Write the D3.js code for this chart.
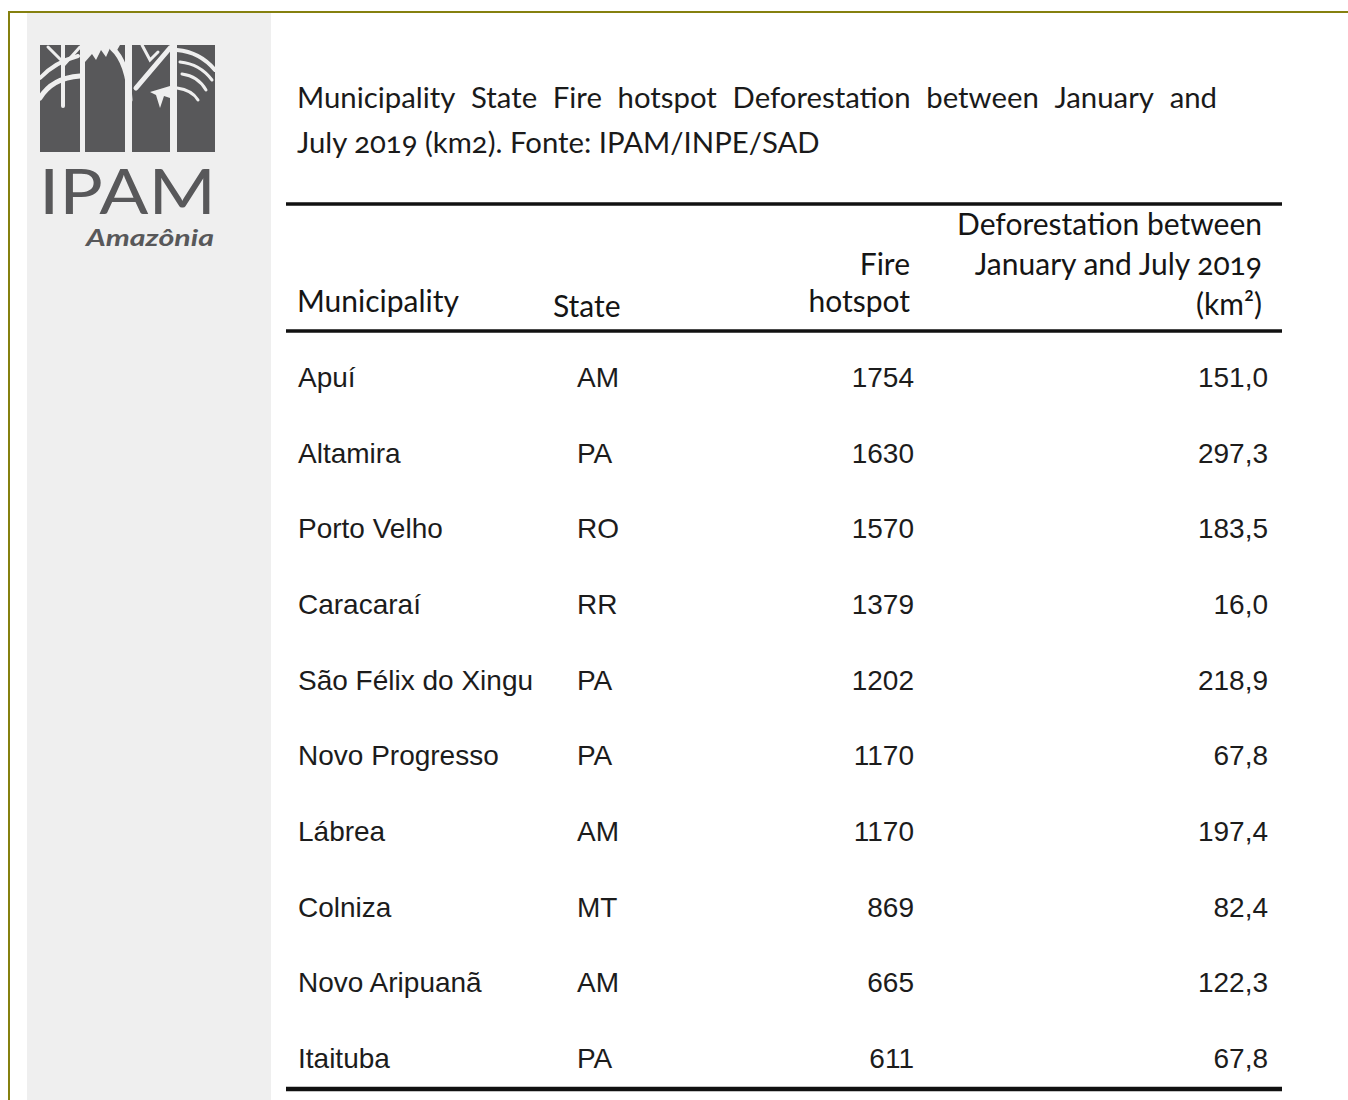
<!DOCTYPE html>
<html lang="en">
<head>
    <meta charset="UTF-8">
    <title>Fire hotspots and deforestation by municipality</title>
    <script src="https://d3js.org/d3.v7.min.js"></script>
    <style>
        body { margin: 0; background: #fff; }
        .title { font-family: Lato, sans-serif; fill: #1a1a1a; font-variant-numeric: oldstyle-nums; }
        .head { font-family: Lato, sans-serif; fill: #151515; font-variant-numeric: oldstyle-nums; }
        .cell { font-family: "Liberation Sans", Arial, sans-serif; font-size: 28px; fill: #1c1c1c; }
        .logo { fill: #58585a; }
    </style>
</head>
<body>
<div id="chart"></div>
<script>
// table data
const municipalities = ["Apuí", "Altamira", "Porto Velho", "Caracaraí", "São Félix do Xingu",
    "Novo Progresso", "Lábrea", "Colniza", "Novo Aripuanã", "Itaituba"];
const states = ["AM", "PA", "RO", "RR", "PA", "PA", "AM", "MT", "AM", "PA"];
const fireHotspots = [1754, 1630, 1570, 1379, 1202, 1170, 1170, 869, 665, 611];
const deforestation = [151.0, 297.3, 183.5, 16.0, 218.9, 67.8, 197.4, 82.4, 122.3, 67.8];

const titleLines = ["Municipality State Fire hotspot Deforestation between January and",
    "July 2019 (km2). Fonte: IPAM/INPE/SAD"];
const headerMunicipality = ["Municipality"];
const headerState = ["State"];
const headerFire = ["Fire", "hotspot"];
const headerDefor = ["Deforestation between", "January and July 2019", "(km²)"];

const W = 1348, H = 1100;
const svg = d3.select("#chart").append("svg")
    .attr("width", W)
    .attr("height", H);

// frame + sidebar
svg.append("rect").attr("x", 27).attr("y", 13).attr("width", 244).attr("height", H).attr("fill", "#efefef");
svg.append("line").attr("x1", 8).attr("x2", W).attr("y1", 12).attr("y2", 12)
    .attr("stroke", "#85800f").attr("stroke-width", 2);
svg.append("line").attr("x1", 9).attr("x2", 9).attr("y1", 12).attr("y2", H)
    .attr("stroke", "#85800f").attr("stroke-width", 2);

// logo (rough)
const logo = svg.append("g").attr("class", "logo");
[[40, 80], [85, 125], [132, 170], [177, 215]].forEach(([a, b]) => {
    logo.append("rect").attr("x", a).attr("y", 45).attr("width", b - a).attr("height", 107);
});
const cut = svg.append("g").attr("fill", "none").attr("stroke", "#efefef").attr("stroke-linecap", "round");
// col 1 branches
cut.append("path").attr("d", "M63,45 L63,106").attr("stroke-width", 4);
cut.append("path").attr("d", "M40,98 Q52,78 80,76").attr("stroke-width", 5);
cut.append("path").attr("d", "M40,78 Q55,62 78,56").attr("stroke-width", 4);
cut.append("path").attr("d", "M48,47 L63,62 M80,47 L63,66").attr("stroke-width", 3);
// col 2 jagged top
svg.append("path").attr("fill", "#efefef")
    .attr("d", "M85,45 L85,62 L92,54 L96,60 L101,50 L106,57 L111,46 L116,52 L120,45 Z");
cut.append("path").attr("d", "M112,48 Q128,62 130,100").attr("stroke-width", 5);
// col 3 diagonal branch
cut.append("path").attr("d", "M170,48 L136,88").attr("stroke-width", 5);
cut.append("path").attr("d", "M142,45 L150,60 L158,52").attr("stroke-width", 3);
svg.append("path").attr("fill", "#efefef")
    .attr("d", "M150,92 L170,86 L170,98 L164,96 L160,108 L156,95 Z");
// col 4 palm leaves
cut.append("path").attr("d", "M177,50 Q200,52 215,70").attr("stroke-width", 4);
cut.append("path").attr("d", "M180,62 Q200,64 212,80").attr("stroke-width", 3);
cut.append("path").attr("d", "M182,74 Q198,76 206,90").attr("stroke-width", 3);
cut.append("path").attr("d", "M177,88 Q192,90 198,100").attr("stroke-width", 3);

svg.append("text").attr("class", "logo")
    .attr("x", 39).attr("y", 214)
    .attr("font-family", "Lato, sans-serif").attr("font-size", 62)
    .attr("textLength", 177).attr("lengthAdjust", "spacingAndGlyphs")
    .text("IPAM");
svg.append("text").attr("class", "logo")
    .attr("x", 86).attr("y", 246)
    .attr("font-family", "Lato, sans-serif").attr("font-size", 23)
    .attr("font-weight", 700).attr("font-style", "italic")
    .attr("textLength", 128).attr("lengthAdjust", "spacingAndGlyphs")
    .text("Amazônia");

// title: size fitted to the second line, first line justified word by word
const probe = svg.append("text").attr("class", "title").attr("font-size", 28).text(titleLines[1]);
const titleSize = 28 * 523 / probe.node().getComputedTextLength();
probe.remove();
function justify(line, x0, x1, y) {
    const words = line.split(" ");
    const nodes = words.map(w => svg.append("text").attr("class", "title")
        .attr("font-size", titleSize).attr("y", y).text(w));
    const widths = nodes.map(n => n.node().getComputedTextLength());
    const gap = (x1 - x0 - d3.sum(widths)) / (words.length - 1);
    let x = x0;
    nodes.forEach((n, i) => { n.attr("x", x); x += widths[i] + gap; });
}
justify(titleLines[0], 297, 1217, 108);
svg.append("text").attr("class", "title")
    .attr("font-size", titleSize).attr("x", 297).attr("y", 153)
    .text(titleLines[1]);

// rules
const tableX = [286, 1282];
[[204, 3.5], [331, 3.5], [1089, 4.5]].forEach(([y, w]) => {
    svg.append("line").attr("x1", tableX[0]).attr("x2", tableX[1])
        .attr("y1", y).attr("y2", y).attr("stroke", "#111").attr("stroke-width", w);
});

// header
const headSize = 30;
const head = svg.append("g").attr("class", "head").attr("font-size", headSize);
head.append("text").attr("x", 297).attr("y", 312).text(headerMunicipality[0]);
head.append("text").attr("x", 553).attr("y", 317).text(headerState[0]);
headerFire.forEach((t, i) => head.append("text").attr("text-anchor", "end")
    .attr("x", 910).attr("y", 275 + i * 37).text(t));
headerDefor.forEach((t, i) => head.append("text").attr("text-anchor", "end")
    .attr("x", 1262).attr("y", 235 + i * 40).text(t));

// body rows
const y = d3.scalePoint().domain(municipalities).range([387, 1068]);
const colX = { muni: 298, state: 577, fire: 914, defor: 1268 };
const fmt = d3.formatLocale({ decimal: ",", thousands: ".", grouping: [3], currency: ["", ""] }).format(".1f");

const rows = svg.append("g").selectAll("g")
    .data(municipalities.map((m, i) => ({ m, s: states[i], f: fireHotspots[i], d: deforestation[i] })))
    .join("g")
    .attr("transform", d => `translate(0,${y(d.m)})`);
rows.append("text").attr("class", "cell").attr("x", colX.muni).text(d => d.m);
rows.append("text").attr("class", "cell").attr("x", colX.state).text(d => d.s);
rows.append("text").attr("class", "cell").attr("x", colX.fire).attr("text-anchor", "end").text(d => d.f);
rows.append("text").attr("class", "cell").attr("x", colX.defor).attr("text-anchor", "end").text(d => fmt(d.d));
</script>
</body>
</html>
